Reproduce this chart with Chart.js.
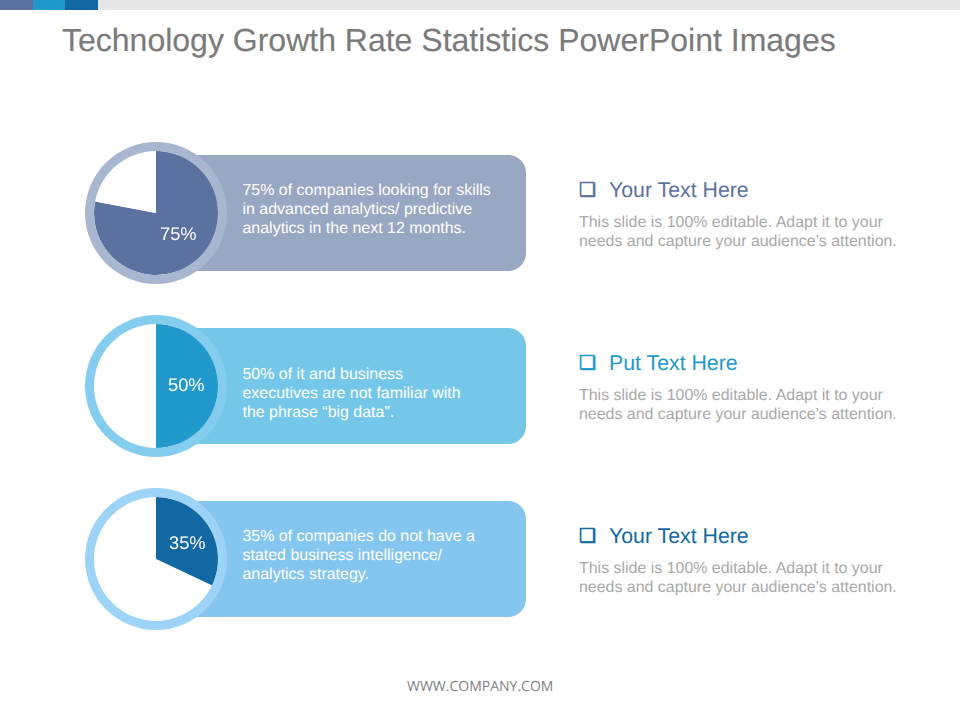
<!DOCTYPE html>
<html>
<head>
<meta charset="utf-8">
<title>Technology Growth Rate Statistics</title>
<script src="https://cdn.jsdelivr.net/npm/chart.js@4"></script>
<style>
    html, body { margin: 0; padding: 0; background: #fff; }
    body { position: relative; width: 960px; height: 720px; overflow: hidden; font-family: "Liberation Sans", Arial, sans-serif; text-rendering: geometricPrecision; }
    .topbar { position: absolute; left: 0; top: 0; width: 960px; height: 10px; background: #e7e7e7; }
    .topbar div { position: absolute; top: 0; height: 10px; }
    h1 { position: absolute; left: 62px; top: 21px; margin: 0; font-size: 32px; line-height: 38px; font-weight: normal; color: #7b7b7b; white-space: nowrap; -webkit-text-stroke: 0.15px #7b7b7b; }
    .band { position: absolute; left: 156px; width: 370px; height: 116px; border-radius: 0 18px 18px 0; }
    .band-text { position: absolute; left: 242.5px; font-size: 15.96px; line-height: 19px; color: #fff; white-space: pre; }
    .pie { position: absolute; left: 85px; width: 142px; height: 142px; }
    .pct { position: absolute; font-size: 18.3px; line-height: 22px; color: #fff; }
    .check { position: absolute; left: 579px; font-family: "DejaVu Sans", sans-serif; font-size: 19px; line-height: 24px; -webkit-text-stroke: 0.7px currentColor; }
    .head { position: absolute; left: 609px; font-size: 21.3px; line-height: 24px; white-space: nowrap; }
    .desc { position: absolute; left: 579px; font-size: 15.95px; line-height: 19px; color: #a9a9a9; white-space: pre; }
    .footer { position: absolute; left: 407px; top: 678px; font-family: "Open Sans", sans-serif; font-size: 14px; line-height: 18px; color: #7f7f7f; white-space: nowrap; }
</style>
</head>
<body>
<div class="topbar">
    <div style="left:0;width:33px;background:#5b71a0"></div>
    <div style="left:33px;width:32px;background:#2299cc"></div>
    <div style="left:65px;width:33px;background:#1268a3"></div>
</div>
<h1>Technology Growth Rate Statistics PowerPoint Images</h1>
<div class="footer">WWW.COMPANY.COM</div>

<script>
// Chart data, slice sizes are read from the drawn wedges
const pctLabels = ['75%', '50%', '35%'];
const sliceValues = [78, 50, 32];
const headings = ['Your Text Here', 'Put Text Here', 'Your Text Here'];
const bandTexts = [
    '75% of companies looking for skills\nin advanced analytics/ predictive\nanalytics in the next 12 months.',
    '50% of it and business\nexecutives are not familiar with\nthe phrase “big data”.',
    '35% of companies do not have a\nstated business intelligence/\nanalytics strategy.'
];
const descText = 'This slide is 100% editable. Adapt it to your\nneeds and capture your audience’s attention.';

// Styling per row
const sliceColors = ['#5b71a0', '#2299cc', '#1268a3'];
const ringColors = ['#a9b6cf', '#85cdee', '#9dd3f6'];
const bandColors = ['#98a7c2', '#75c7ea', '#85c6f0'];
const rowTops = [155, 328, 501];
const pctPos = [[160, 223], [168, 374], [169, 532]];
const textOffsets = [26, 37, 26];

function addEl(cls, top, text, color) {
    const el = document.createElement('div');
    el.className = cls;
    el.style.top = top + 'px';
    if (text) el.textContent = text;
    if (color) el.style.color = color;
    document.body.appendChild(el);
    return el;
}

pctLabels.forEach((label, i) => {
    const top = rowTops[i];

    const band = addEl('band', top);
    band.style.background = bandColors[i];
    addEl('band-text', top + textOffsets[i], bandTexts[i]);

    // Pie with a thin outer ring
    const holder = addEl('pie', top - 13);
    const canvas = document.createElement('canvas');
    holder.appendChild(canvas);
    new Chart(canvas, {
        type: 'doughnut',
        data: {
            labels: [label, 'Rest'],
            datasets: [
                { data: [100], backgroundColor: [ringColors[i]], borderWidth: 0, weight: 9 },
                { data: [sliceValues[i], 100 - sliceValues[i]], backgroundColor: [sliceColors[i], '#ffffff'], borderWidth: 0, weight: 62 }
            ]
        },
        options: {
            responsive: true,
            maintainAspectRatio: false,
            animation: false,
            cutout: 0,
            plugins: { legend: { display: false }, tooltip: { enabled: false } }
        }
    });

    const pct = addEl('pct', pctPos[i][1], label);
    pct.style.left = pctPos[i][0] + 'px';

    addEl('check', top + 23, '❑', sliceColors[i]);
    addEl('head', top + 23, headings[i], sliceColors[i]);
    addEl('desc', top + 58, descText);
});
</script>
</body>
</html>
